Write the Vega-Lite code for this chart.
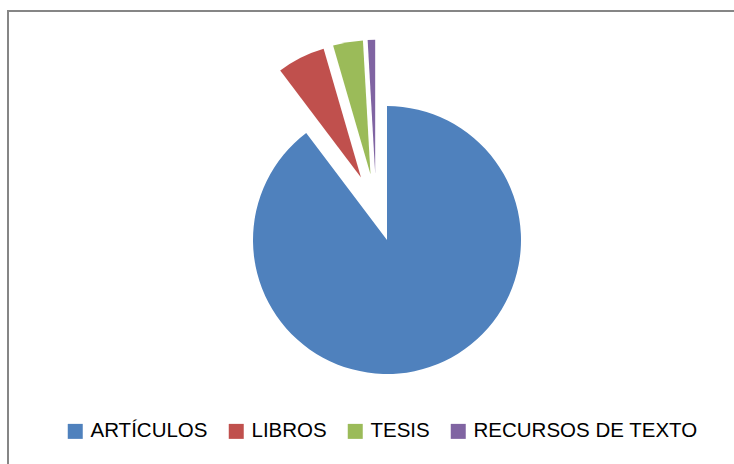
{
  "$schema": "https://vega.github.io/schema/vega-lite/v6.json",
  "width": 758,
  "height": 458,
  "autosize": "none",
  "padding": {"left": 8, "top": 11, "right": 0, "bottom": 0},
  "background": "#ffffff",
  "view": {"stroke": "#868686", "strokeWidth": 2},
  "data": {
    "values": [
      {"categoria": "ARTÍCULOS", "valor": 89.7, "orden": 1},
      {"categoria": "LIBROS", "valor": 5.8, "orden": 2},
      {"categoria": "TESIS", "valor": 3.6, "orden": 3},
      {"categoria": "RECURSOS DE TEXTO", "valor": 0.9, "orden": 4}
    ]
  },
  "transform": [
    {"stack": "valor", "groupby": [], "sort": [{"field": "orden"}], "as": ["v0", "v1"]}
  ],
  "encoding": {
    "theta": {"field": "v0", "type": "quantitative", "stack": null, "scale": {"domain": [0, 100]}},
    "theta2": {"field": "v1"},
    "color": {
      "field": "categoria",
      "type": "nominal",
      "sort": ["ARTÍCULOS", "LIBROS", "TESIS", "RECURSOS DE TEXTO"],
      "scale": {
        "domain": ["ARTÍCULOS", "LIBROS", "TESIS", "RECURSOS DE TEXTO"],
        "range": ["#4F81BD", "#C0504D", "#9BBB59", "#8064A2"]
      },
      "legend": {
        "orient": "none",
        "legendX": 57,
        "legendY": 410,
        "direction": "horizontal",
        "title": null,
        "padding": 0,
        "labelFont": "Liberation Sans",
        "labelFontSize": 20.5,
        "labelColor": "#000000",
        "labelLimit": 0,
        "labelOffset": 5,
        "columnPadding": 18,
        "symbolType": "square",
        "symbolSize": 225,
        "symbolStrokeWidth": 0,
        "symbolOpacity": 1
      }
    }
  },
  "layer": [
    {
      "transform": [{"filter": "datum.categoria === 'ARTÍCULOS'"}],
      "mark": {"type": "arc", "outerRadius": 134, "xOffset": 0, "yOffset": 0}
    },
    {
      "transform": [{"filter": "datum.categoria === 'LIBROS'"}],
      "mark": {"type": "arc", "outerRadius": 134, "xOffset": -26, "yOffset": -62.6}
    },
    {
      "transform": [{"filter": "datum.categoria === 'TESIS'"}],
      "mark": {"type": "arc", "outerRadius": 134, "xOffset": -16.5, "yOffset": -65.7}
    },
    {
      "transform": [{"filter": "datum.categoria === 'RECURSOS DE TEXTO'"}],
      "mark": {"type": "arc", "outerRadius": 134, "xOffset": -11.8, "yOffset": -66.2}
    }
  ]
}
